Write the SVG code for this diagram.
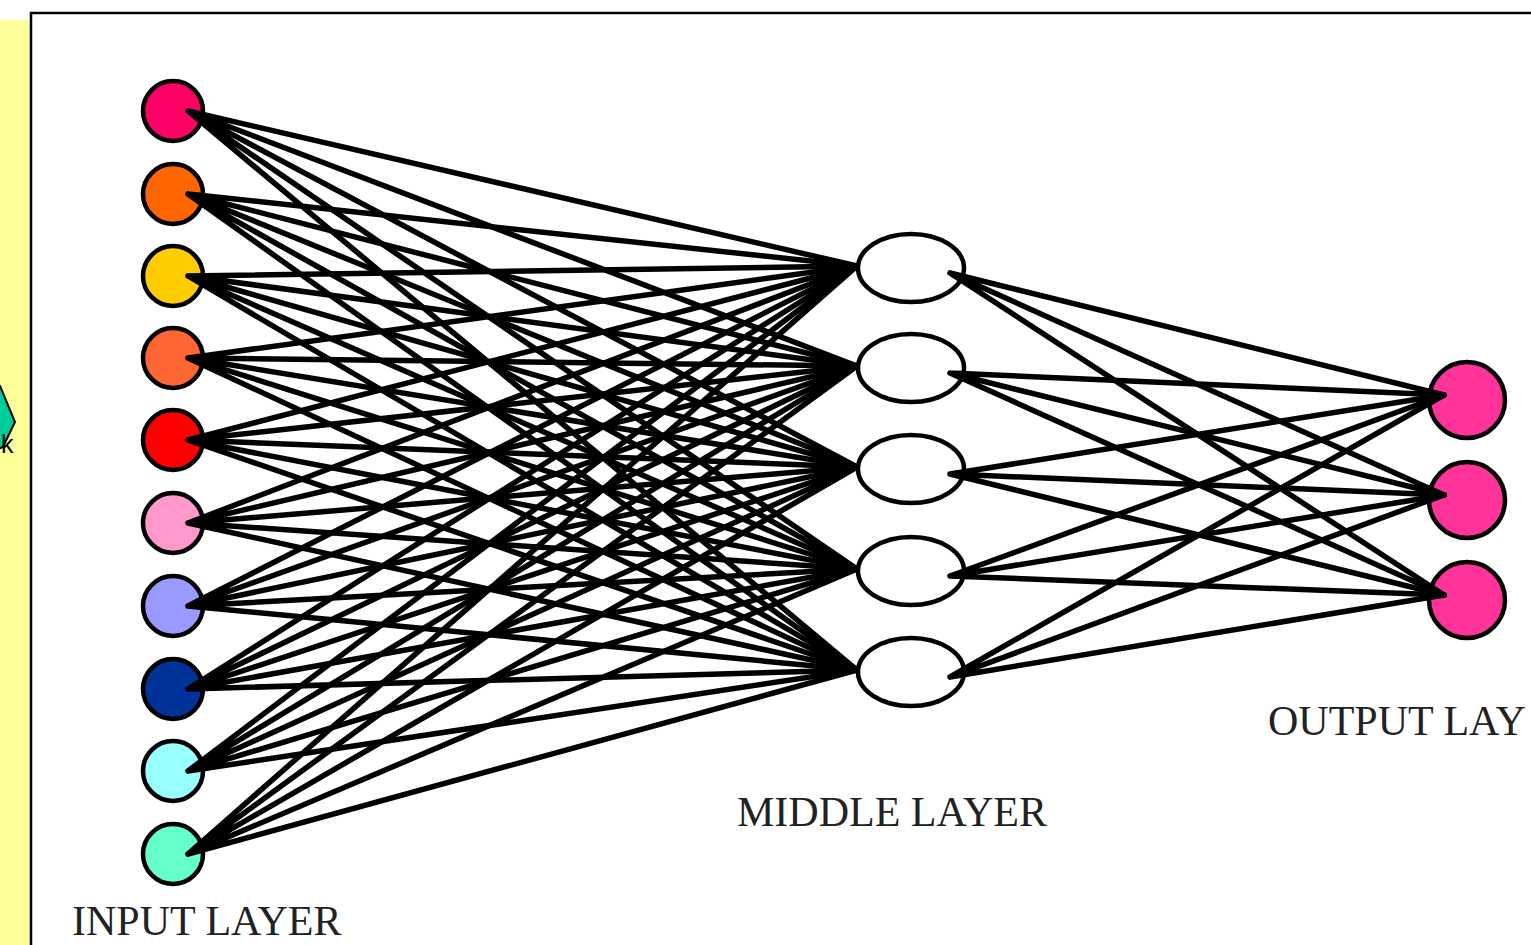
<svg xmlns="http://www.w3.org/2000/svg" width="1531" height="945" viewBox="0 0 1531 945">
<style>
.c{stroke:#000;stroke-width:5.5;fill:none;stroke-linecap:round}
.in{stroke:#000;stroke-width:4.5}
.mid{fill:#fff;stroke:#000;stroke-width:4.5}
.out{fill:#FF3399;stroke:#000;stroke-width:4.5}
.lbl{font-family:"Liberation Serif","Times New Roman",serif;font-size:42px;fill:#222}
</style>
<rect x="0" y="0" width="1531" height="945" fill="#fff"/>
<rect x="0" y="20" width="31" height="925" fill="#FFFF99"/>
<polygon points="-30,370 0,386 15,422 3,447 -30,460" fill="#00CC99" stroke="#000" stroke-width="2"/>
<text x="1" y="453" font-family="Liberation Sans, Arial, sans-serif" font-size="25" fill="#000">k</text>
<rect x="31" y="13" width="1600" height="1000" fill="#fff" stroke="#000" stroke-width="2.5"/>

<g id="input-layer">
<circle id="in1" class="in" cx="173" cy="111" r="30" fill="#FF0066"/>
<circle id="in2" class="in" cx="173" cy="194" r="30" fill="#FF6600"/>
<circle id="in3" class="in" cx="173" cy="276" r="30" fill="#FFCC00"/>
<circle id="in4" class="in" cx="173" cy="358" r="30" fill="#FF6633"/>
<circle id="in5" class="in" cx="173" cy="440" r="30" fill="#FF0000"/>
<circle id="in6" class="in" cx="173" cy="523" r="30" fill="#FF99CC"/>
<circle id="in7" class="in" cx="173" cy="606" r="30" fill="#9999FF"/>
<circle id="in8" class="in" cx="173" cy="689" r="30" fill="#003399"/>
<circle id="in9" class="in" cx="173" cy="771" r="30" fill="#99FFFF"/>
<circle id="in10" class="in" cx="173" cy="854" r="30" fill="#66FFCC"/>
</g>
<g id="middle-layer">
<ellipse id="m1" class="mid" cx="911" cy="268" rx="53" ry="34"/>
<ellipse id="m2" class="mid" cx="911" cy="368" rx="53" ry="34"/>
<ellipse id="m3" class="mid" cx="911" cy="469" rx="53" ry="34"/>
<ellipse id="m4" class="mid" cx="911" cy="571" rx="53" ry="34"/>
<ellipse id="m5" class="mid" cx="911" cy="672" rx="53" ry="34"/>
</g>
<g id="output-layer">
<circle id="o1" class="out" cx="1467" cy="400" r="38"/>
<circle id="o2" class="out" cx="1467" cy="500" r="38"/>
<circle id="o3" class="out" cx="1467" cy="600" r="38"/>
</g>

<g id="connectors">
<path class="c" d="M188 111L857 266M188 111L857 366M188 111L857 467M188 111L857 569M188 111L857 670"/>
<path class="c" d="M188 194L857 266M188 194L857 366M188 194L857 467M188 194L857 569M188 194L857 670"/>
<path class="c" d="M188 276L857 266M188 276L857 366M188 276L857 467M188 276L857 569M188 276L857 670"/>
<path class="c" d="M188 358L857 266M188 358L857 366M188 358L857 467M188 358L857 569M188 358L857 670"/>
<path class="c" d="M188 440L857 266M188 440L857 366M188 440L857 467M188 440L857 569M188 440L857 670"/>
<path class="c" d="M188 523L857 266M188 523L857 366M188 523L857 467M188 523L857 569M188 523L857 670"/>
<path class="c" d="M188 606L857 266M188 606L857 366M188 606L857 467M188 606L857 569M188 606L857 670"/>
<path class="c" d="M188 689L857 266M188 689L857 366M188 689L857 467M188 689L857 569M188 689L857 670"/>
<path class="c" d="M188 771L857 266M188 771L857 366M188 771L857 467M188 771L857 569M188 771L857 670"/>
<path class="c" d="M188 854L857 266M188 854L857 366M188 854L857 467M188 854L857 569M188 854L857 670"/>
<path class="c" d="M950 273L1444 395M950 273L1444 495M950 273L1444 595"/>
<path class="c" d="M950 373L1444 395M950 373L1444 495M950 373L1444 595"/>
<path class="c" d="M950 474L1444 395M950 474L1444 495M950 474L1444 595"/>
<path class="c" d="M950 576L1444 395M950 576L1444 495M950 576L1444 595"/>
<path class="c" d="M950 677L1444 395M950 677L1444 495M950 677L1444 595"/>
</g>

<g id="labels">
<text class="lbl" x="72" y="935">INPUT LAYER</text>
<text class="lbl" x="737" y="826">MIDDLE LAYER</text>
<text class="lbl" x="1268" y="735">OUTPUT LAY</text>
</g>
</svg>
